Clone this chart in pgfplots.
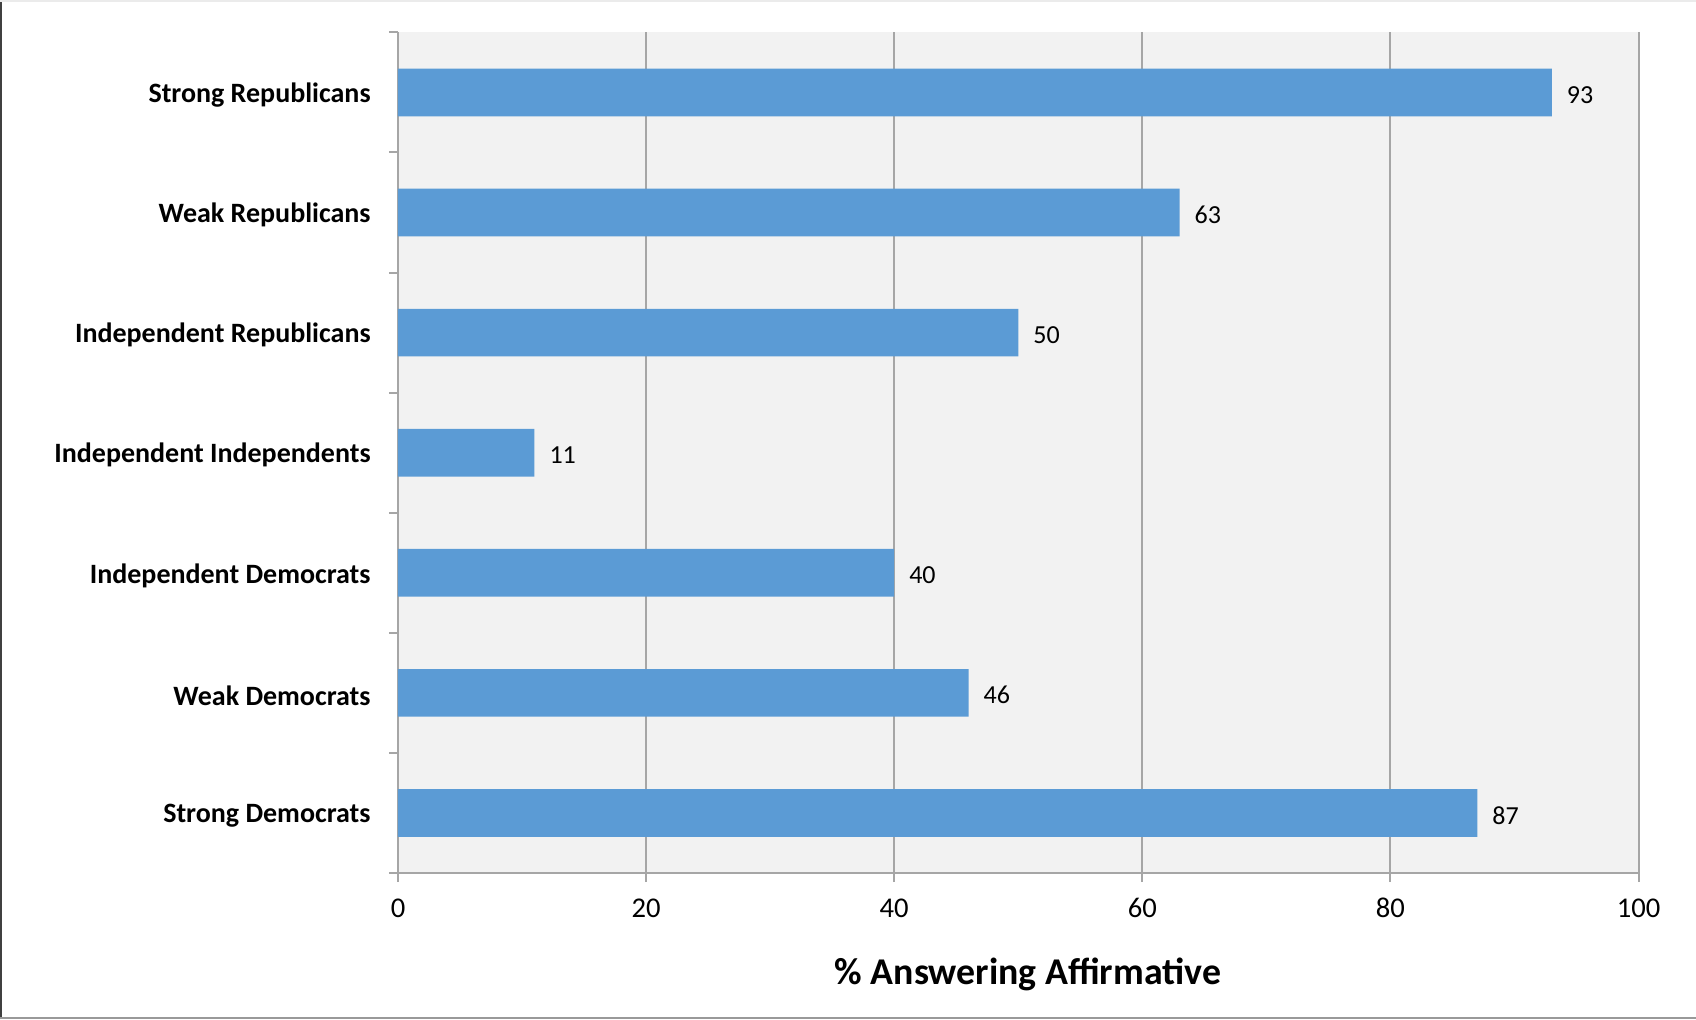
\documentclass[border=0pt]{standalone}
\usepackage{fontspec}
\setmainfont{Carlito}
\usepackage{pgfplots}
\pgfplotsset{compat=1.18}
\definecolor{barblue}{HTML}{5B9BD5}
\definecolor{plotbg}{HTML}{F2F2F2}
\definecolor{gridgray}{HTML}{A6A6A6}
\begin{document}
\begin{tikzpicture}
\useasboundingbox (-199pt,-73pt) rectangle (649pt,436.5pt);
\begin{axis}[
  at={(0,0)}, anchor=south west,
  scale only axis,
  width=620.3pt, height=420.3pt,
  xbar, bar width=23.8pt,
  xmin=0, xmax=100,
  ymin=-0.5, ymax=6.5,
  xtick={0,20,...,100},
  ytick={0,...,6},
  yticklabels={Strong Democrats,Weak Democrats,Independent Democrats,Independent Independents,Independent Republicans,Weak Republicans,Strong Republicans},
  minor ytick={-0.5,0.5,...,6.5},
  axis x line*=bottom, axis y line*=left,
  axis line style={gridgray, line width=1pt},
  tick align=outside,
  major tick length=4.5pt, minor tick length=4.5pt,
  y tick style={draw=none},
  minor y tick style={draw=gridgray, line width=1pt},
  x tick style={gridgray, line width=1pt},
  xmajorgrids,
  major grid style={gridgray, line width=1pt},
  axis background/.style={fill=plotbg},
  yticklabel style={font=\fontsize{14}{16}\selectfont\bfseries, anchor=east, inner sep=0pt, xshift=-9pt, yshift=-1.3pt},
  xticklabel style={font=\fontsize{14.3}{17}\selectfont, anchor=center, inner sep=0pt, yshift=-13pt},
  /pgf/number format/assume math mode=true,
  xlabel={\% Answering Affirmative},
  xlabel style={font=\fontsize{18.9}{22}\selectfont\bfseries, at={(axis description cs:0.5,0)}, anchor=center, yshift=-50.7pt, xshift=4.8pt},
  nodes near coords,
  nodes near coords style={font=\fontsize{13}{15}\selectfont, anchor=west, xshift=4pt, yshift=-1.2pt},
  point meta=x,
]
\addplot[fill=barblue, draw=none] coordinates {
  (87,0) (46,1) (40,2) (11,3) (50,4) (63,5) (93,6)
};
\end{axis}
\draw[line width=1.2pt, draw=black!75] (-198.4pt,-73pt) -- (-198.4pt,436.5pt);
\draw[line width=1pt, draw=black!40] (-199pt,-72.5pt) -- (649pt,-72.5pt);
\draw[line width=0.8pt, draw=black!8] (-199pt,436.1pt) -- (649pt,436.1pt);
\end{tikzpicture}
\end{document}
